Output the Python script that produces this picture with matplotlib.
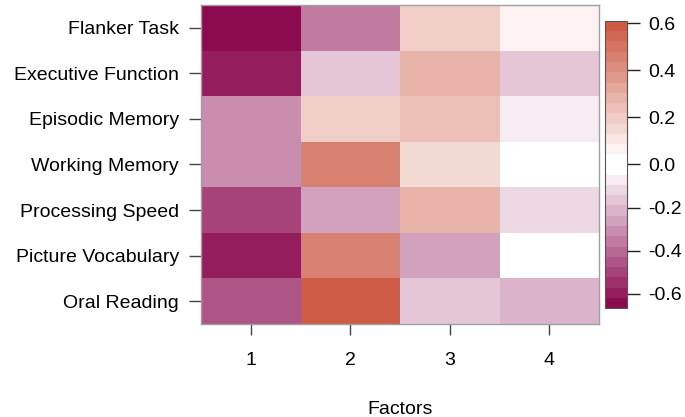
import numpy as np
import matplotlib
matplotlib.use("Agg")
import matplotlib.pyplot as plt
from matplotlib.colors import ListedColormap, BoundaryNorm, to_rgb

plt.rcParams['font.family'] = ['Liberation Sans', 'DejaVu Sans']
plt.rcParams['axes.unicode_minus'] = False

variables = ["Flanker Task", "Executive Function", "Episodic Memory", "Working Memory",
             "Processing Speed", "Picture Vocabulary", "Oral Reading"]
factors = ["1", "2", "3", "4"]

factor1 = [-0.66, -0.595, -0.31, -0.31, -0.48, -0.595, -0.43]
factor2 = [-0.38, -0.167, 0.196, 0.457, -0.262, 0.457, 0.60]
factor3 = [0.196, 0.283, 0.24, 0.152, 0.283, -0.262, -0.167]
factor4 = [0.065, -0.167, -0.071, -0.01, -0.119, 0.01, -0.214]

zmin, zmax = -0.667, 0.61
cbar_ticks = [-0.6, -0.4, -0.2, 0.0, 0.2, 0.4, 0.6]

# palette: deeppink4 -> white -> coral3, 14 steps each side
nstep = 14
low = np.array(to_rgb("#8B0A50"))
mid = np.array([1.0, 1.0, 1.0])
high = np.array(to_rgb("#CD5B45"))
neg_cols = [low + (mid - low) * k / (nstep - 1) for k in range(nstep)]
pos_cols = [mid + (high - mid) * k / (nstep - 1) for k in range(nstep)]
cmap = ListedColormap(neg_cols + pos_cols)
bounds = np.concatenate([np.linspace(zmin, 0, nstep + 1), np.linspace(0, zmax, nstep + 1)[1:]])
norm = BoundaryNorm(bounds, cmap.N)

data = np.array([factor1, factor2, factor3, factor4]).T  # rows = variables

W, H = 685, 417
fs = 14
fig = plt.figure(figsize=(W / 100, H / 100), dpi=100)
ax = fig.add_axes([201 / W, (H - 324) / H, 398 / W, 319 / H])
ax.pcolormesh(np.arange(len(factors) + 1) + 0.5, np.arange(len(variables) + 1) + 0.5,
              data[::-1], cmap=cmap, norm=norm)
ax.set_xlim(0.5, len(factors) + 0.5)
ax.set_ylim(0.5, len(variables) + 0.5)
ax.set_xticks(np.arange(1, len(factors) + 1))
ax.set_xticklabels(factors)
ax.set_yticks(np.arange(1, len(variables) + 1))
ax.set_yticklabels(variables[::-1])
for s in ax.spines.values():
    s.set_color("#a0a0a0")
    s.set_linewidth(1.0)
ax.tick_params(axis='y', length=9, width=1, color="#444444", pad=7, labelsize=fs)
ax.tick_params(axis='x', length=8, width=1, color="#444444", pad=12, labelsize=fs)

fig.text(400 / W, 3.5 / H, "Factors", ha='center', va='baseline', fontsize=fs)

cax = fig.add_axes([605 / W, (H - 308) / H, 22 / W, 287 / H])
sm = matplotlib.cm.ScalarMappable(norm=norm, cmap=cmap)
cb = fig.colorbar(sm, cax=cax, ticks=cbar_ticks)
cb.ax.minorticks_off()
cb.ax.set_yticklabels([f"{t:.1f}" for t in cbar_ticks])
cb.outline.set_edgecolor("#555555")
cb.outline.set_linewidth(0.8)
cb.ax.tick_params(length=9, width=1, color="#222222", pad=6, labelsize=fs)

fig.savefig("out.png", dpi=100)
